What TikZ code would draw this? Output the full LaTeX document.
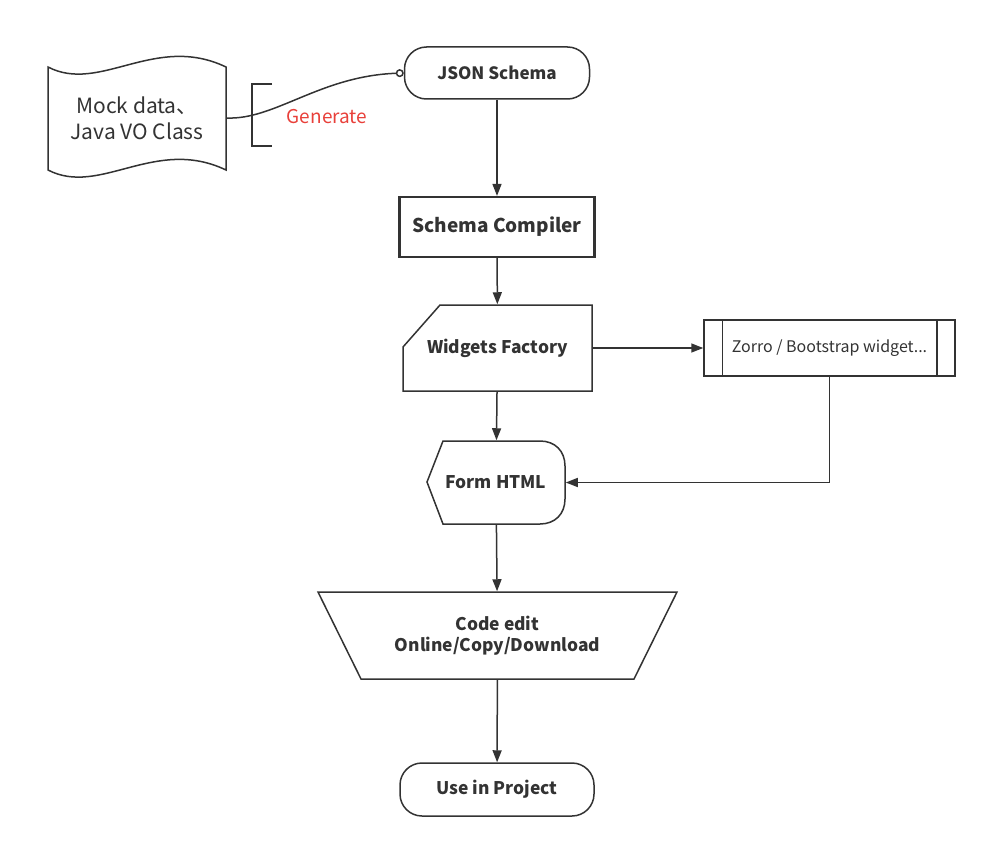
\documentclass[tikz,border=0pt]{standalone}
\usepackage{fontspec}
\setmainfont{Noto Sans CJK SC}
\usetikzlibrary{arrows.meta,calc}
\definecolor{ink}{HTML}{333333}
\definecolor{genred}{HTML}{E8403A}

\begin{document}
\begin{tikzpicture}[x=1pt,y=-1pt,color=ink,line width=1.5pt,
  arr/.style={-{Triangle[length=12pt,width=9pt]}},
  boldtxt/.style={font=\fontsize{17.4}{21}\selectfont\bfseries,inner sep=0pt},
  hidden/.style={inner sep=0pt},
  roundbox/.style={draw,rounded corners=22pt,inner sep=0pt,boldtxt}]
\useasboundingbox (0,0) rectangle (987,848);

% document shape
\draw (48,67) .. controls (100,94) and (155,33) .. (226,67) -- (226,170)
  .. controls (155,136) and (100,197) .. (48,170) -- cycle;
\node[hidden,minimum width=178pt,minimum height=104pt,align=center,
  font=\fontsize{21}{26}\selectfont] (mock) at (137,118) {Mock data、\\Java VO Class};

% bracket and label
\draw (272,84) -- (252,84) -- (252,146) -- (272,146);
\node[text=genred,font=\fontsize{19}{23}\selectfont] (gen) at (327,117) {Generate};

\node[roundbox,font=\fontsize{17}{21}\selectfont\bfseries,minimum width=185pt,minimum height=52pt] (js) at (497,73) {JSON Schema};
\node[draw,line width=2.2pt,boldtxt,font=\fontsize{19}{23}\selectfont\bfseries,minimum width=195pt,minimum height=60pt] (sc) at (497,227) {Schema Compiler};

% manual input
\node[hidden,boldtxt,minimum width=189pt,minimum height=86pt] (wf) at (497.5,348) {Widgets Factory};
\draw (440,305) -- (592,305) -- (592,391) -- (403,391) -- (403,347) -- cycle;

% predefined process
\node[draw,inner sep=0pt,font=\fontsize{16}{20}\selectfont,minimum width=251pt,minimum height=56pt] (zw) at (829.5,348) {Zorro / Bootstrap widget...};
\draw ($(zw.north west)+(19,0)$) -- ($(zw.south west)+(19,0)$);
\draw ($(zw.north east)+(-19,0)$) -- ($(zw.south east)+(-19,0)$);

% display
\node[hidden,boldtxt,minimum width=138pt,minimum height=83pt] (fh) at (496,482.5) {Form HTML};
\draw (427,482) -- (443,441) -- (540,441) .. controls (555,441) and (565,451) .. (565,466)
  -- (565,499) .. controls (565,514) and (555,524) .. (540,524) -- (443,524) -- cycle;

% trapezium
\node[hidden,boldtxt,align=center,minimum width=359pt,minimum height=87pt] (ce) at (497.5,635.5) {Code edit\\Online/Copy/Download};
\draw (318,592) -- (677,592) -- (634,679) -- (361,679) -- cycle;

\node[roundbox,minimum width=194pt,minimum height=53pt] (up) at (497,789.5) {Use in Project};

% connectors
\draw[-{Circle[open,length=8pt,width=8pt,line width=1.5pt]}] (mock.east) .. controls (275,120) and (320,76) .. (js.west);
\draw[arr] (js) -- (sc);
\draw[arr] (sc) -- (wf);
\draw[arr] (wf) -- (fh);
\draw[arr] (wf) -- (zw);
\draw[arr] (zw.south) |- (fh.east);
\draw[arr] (fh) -- (ce);
\draw[arr] (ce) -- (up);
\end{tikzpicture}
\end{document}
